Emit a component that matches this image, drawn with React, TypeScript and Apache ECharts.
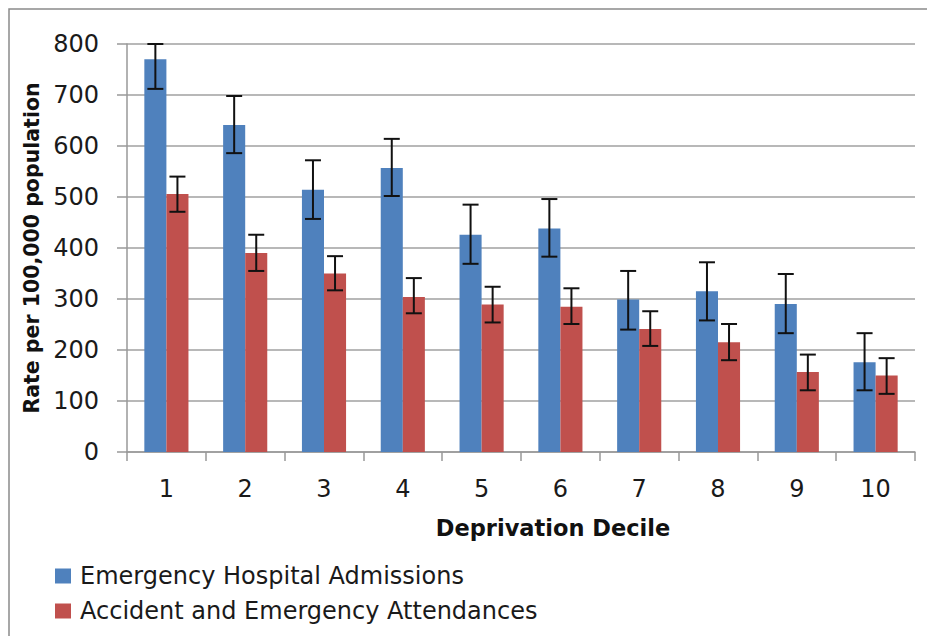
import React, { useEffect, useRef } from "react";
import * as echarts from "echarts";

const categories = ["1", "2", "3", "4", "5", "6", "7", "8", "9", "10"];
const admissions = [770, 641, 514, 557, 426, 438, 299, 315, 290, 176];
const admissionsLow = [712, 586, 457, 502, 369, 383, 240, 258, 233, 121];
const admissionsHigh = [800, 698, 572, 614, 485, 496, 355, 372, 349, 233];
const attendances = [506, 390, 350, 304, 289, 285, 241, 215, 157, 150];
const attendancesLow = [471, 355, 317, 272, 254, 251, 208, 180, 121, 114];
const attendancesHigh = [540, 426, 384, 341, 324, 321, 276, 251, 191, 184];
const yTicks = [0, 100, 200, 300, 400, 500, 600, 700, 800];

const FONT = "DejaVu Sans";
const BAR_FRAC = 0.28;

function errorSeries(name: string, low: number[], high: number[], side: number) {
  return {
    type: "custom",
    name,
    z: 10,
    clip: false,
    silent: true,
    data: low.map((l, i) => [i, l, high[i]]),
    encode: { x: 0, y: [1, 2] },
    renderItem: (params: any, api: any) => {
      const idx = api.value(0);
      const lo = api.coord([idx, api.value(1)]);
      const hi = api.coord([idx, api.value(2)]);
      const band = api.size([1, 0])[0];
      const x = lo[0] + side * band * BAR_FRAC * 0.5;
      const cap = 8;
      const style = { stroke: "#111", lineWidth: 2 };
      return {
        type: "group",
        children: [
          { type: "line", shape: { x1: x, y1: lo[1], x2: x, y2: hi[1] }, style },
          { type: "line", shape: { x1: x - cap, y1: lo[1], x2: x + cap, y2: lo[1] }, style },
          { type: "line", shape: { x1: x - cap, y1: hi[1], x2: x + cap, y2: hi[1] }, style },
        ],
      };
    },
  };
}

export default function App() {
  const ref = useRef<HTMLDivElement>(null);
  useEffect(() => {
    if (!ref.current) return;
    const chart = echarts.init(ref.current, undefined, { renderer: "svg" });
    chart.setOption({
      animation: false,
      backgroundColor: "#ffffff",
      graphic: [
        {
          type: "rect",
          shape: { x: 9, y: 9, width: 940, height: 660 },
          style: { fill: "none", stroke: "#8a8a8a", lineWidth: 1.5 },
          silent: true,
        },
      ],
      grid: { left: 127, top: 44, right: 12, bottom: 184, containLabel: false },
      legend: {
        orient: "vertical",
        left: 50,
        top: 559,
        padding: 5,
        icon: "rect",
        itemWidth: 16,
        itemHeight: 15,
        itemGap: 11,
        data: ["Emergency Hospital Admissions", "Accident and Emergency Attendances"],
        textStyle: {
          fontFamily: FONT,
          fontSize: 24,
          color: "#1a1a1a",
          lineHeight: 24,
          padding: [0, 0, 0, 4],
        },
      },
      xAxis: {
        type: "category",
        data: categories,
        name: "Deprivation Decile",
        nameLocation: "middle",
        nameGap: 64,
        nameTextStyle: {
          fontFamily: FONT,
          fontSize: 22.5,
          fontWeight: "bold",
          color: "#111",
          padding: [0, 0, 0, 64],
        },
        axisLine: { lineStyle: { color: "#999", width: 1.5 } },
        axisTick: { show: true, length: 9, alignWithLabel: false, lineStyle: { color: "#999", width: 1.5 } },
        axisLabel: { fontFamily: FONT, fontSize: 24, color: "#1a1a1a", margin: 25 },
      },
      yAxis: {
        type: "value",
        min: 0,
        max: 800,
        interval: 100,
        name: "Rate per 100,000 population",
        nameLocation: "middle",
        nameGap: 80,
        nameTextStyle: { fontFamily: FONT, fontSize: 20.5, fontWeight: "bold", color: "#111" },
        axisLine: { show: true, lineStyle: { color: "#999", width: 1.5 } },
        axisTick: { show: true, length: 10, inside: false, lineStyle: { color: "#999", width: 1.5 } },
        splitLine: { show: true, lineStyle: { color: "#a0a0a0", width: 1.5 } },
        axisLabel: {
          fontFamily: FONT,
          fontSize: 24,
          color: "#1a1a1a",
          margin: 28,
          formatter: (v: number) => (yTicks.includes(v) ? String(v) : ""),
        },
      },
      series: [
        {
          type: "bar",
          name: "Emergency Hospital Admissions",
          data: admissions,
          barWidth: BAR_FRAC * 100 + "%",
          barGap: "0%",
          itemStyle: { color: "#4F81BD" },
        },
        {
          type: "bar",
          name: "Accident and Emergency Attendances",
          data: attendances,
          barWidth: BAR_FRAC * 100 + "%",
          barGap: "0%",
          itemStyle: { color: "#C0504D" },
        },
        errorSeries("admErr", admissionsLow, admissionsHigh, -1),
        errorSeries("aaeErr", attendancesLow, attendancesHigh, 1),
      ],
    });
    return () => chart.dispose();
  }, []);
  return (
    <div
      ref={ref}
      style={{ position: "fixed", left: 0, top: 0, width: 927, height: 636, background: "#fff" }}
    />
  );
}
